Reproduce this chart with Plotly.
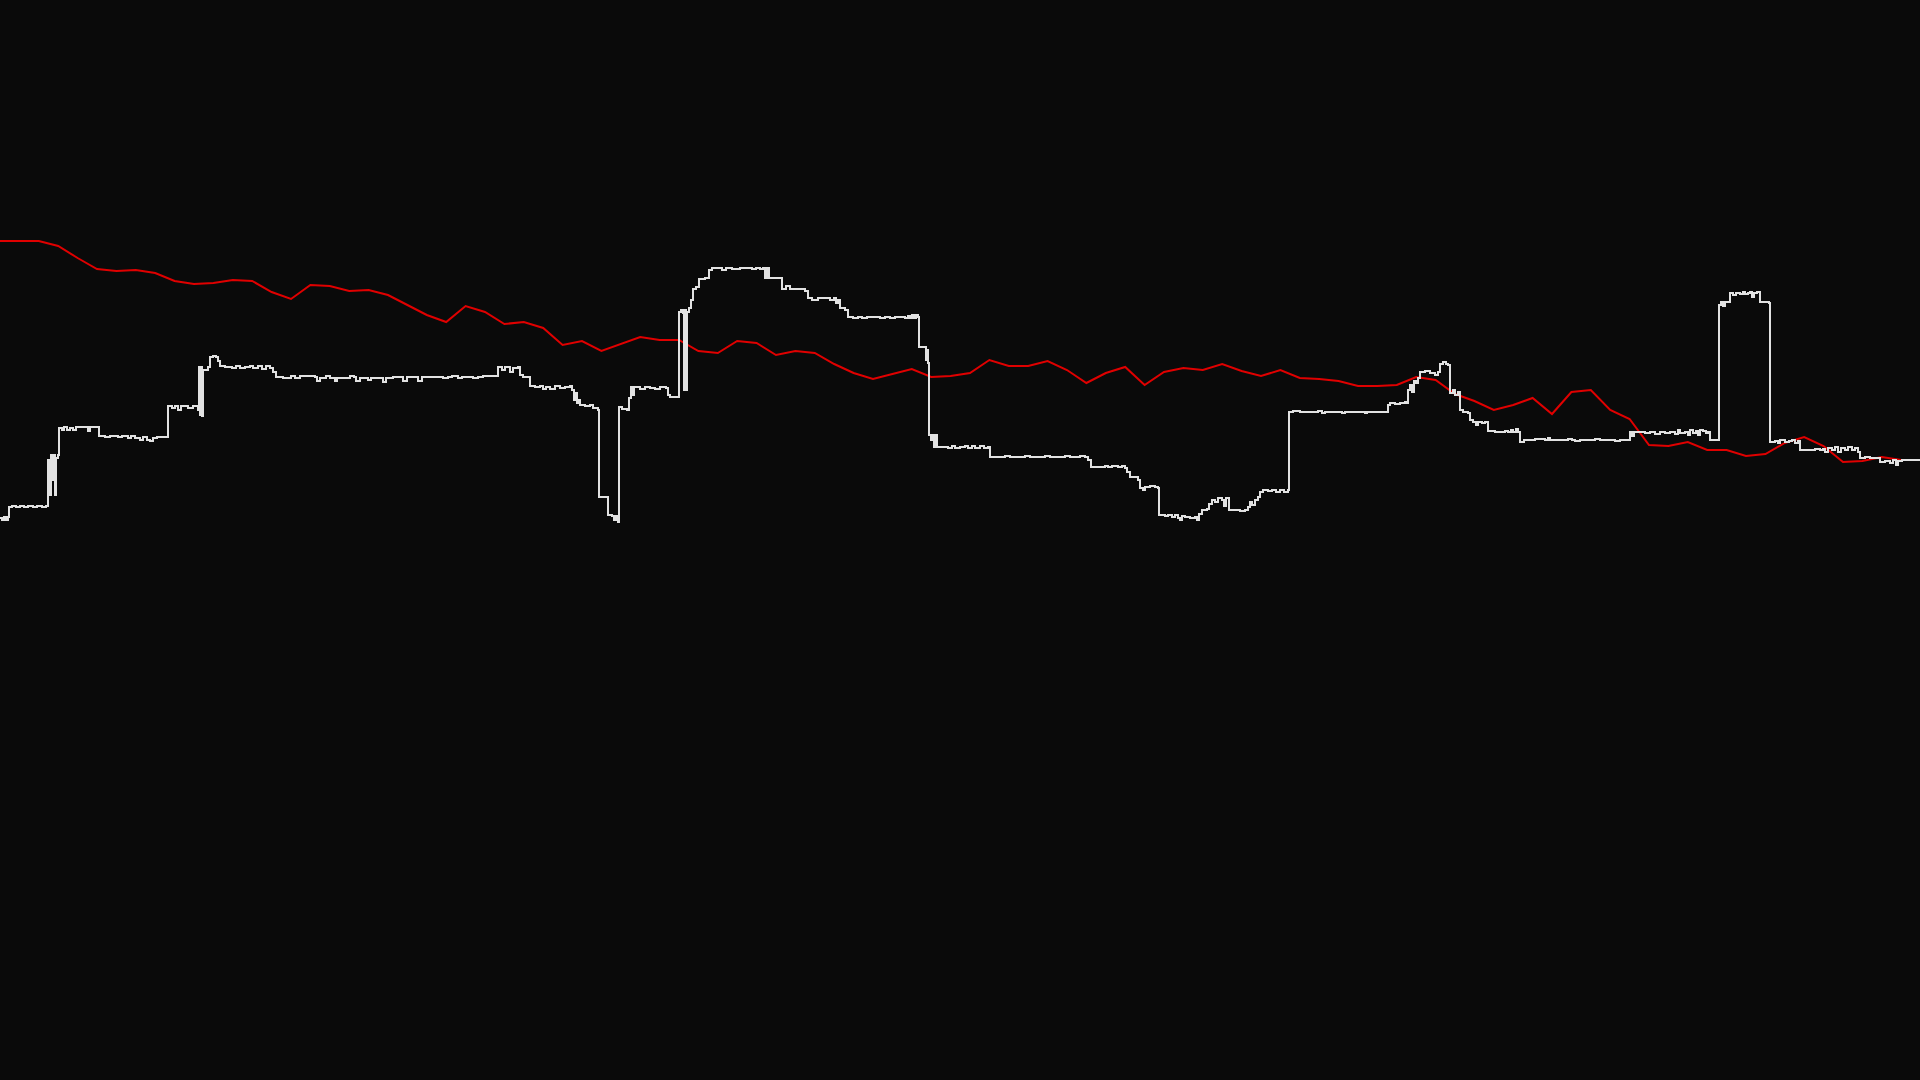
import plotly.graph_objects as go

# Red series: evenly spaced samples (value axis runs top-down, 0 at top)
red_step = 19.4
red_vals = [241, 241, 241, 246, 258, 269, 271, 270, 273, 281,
            284, 283, 280, 281, 292, 299, 285, 286, 291, 290,
            295, 305, 315, 322, 306, 312, 324, 322, 328, 345,
            341, 351, 344, 337, 340, 340, 351, 353, 341, 343,
            355, 351, 353, 364, 373, 379, 374, 369, 377, 376,
            373, 360, 366, 366, 361, 370, 383, 373, 367, 385,
            372, 368, 370, 364, 371, 376, 370, 378, 379, 381,
            386, 386, 385, 377, 380, 394, 401, 410, 405, 398,
            414, 392, 390, 410, 419, 445, 446, 442, 450, 450,
            456, 454, 443, 437, 446, 462, 461, 457, 460]

# White series: change points (time, level), drawn as a step line
white_t_a = [0, 2, 4, 6, 8, 9, 12, 16, 20, 24, 28, 33, 37, 42, 46, 48, 50, 51, 52, 54,
             55, 56, 58, 59, 62, 64, 67, 70, 73, 76, 80, 87, 88, 90, 96, 99, 105, 110, 118, 122,
             128, 131, 135, 140, 143, 147, 150, 153, 157, 168, 172, 175, 178, 181, 188, 193, 198, 199, 200, 201,
             202, 203, 205, 208, 210, 213, 216, 218, 220, 225, 232, 236, 240, 245, 250, 253, 258, 262, 266, 270,
             273, 276]
white_v_a = [518, 520, 517, 520, 517, 507, 506, 507, 506, 507, 506, 507, 506, 507, 506, 460, 495, 455, 480, 455,
             495, 458, 455, 428, 430, 427, 430, 428, 430, 427, 427, 427, 431, 427, 427, 436, 437, 436, 437, 436,
             438, 436, 438, 440, 437, 440, 441, 438, 437, 406, 408, 406, 410, 406, 408, 406, 410, 367, 415, 367,
             416, 370, 370, 367, 357, 356, 357, 361, 366, 367, 368, 366, 368, 367, 366, 368, 366, 369, 366, 368,
             372, 377]

white_t_b = [283, 291, 295, 300, 315, 317, 320, 326, 330, 335, 337, 345, 350, 354, 356, 360, 365, 368, 371, 380,
             383, 386, 393, 400, 403, 407, 415, 418, 422, 430, 438, 443, 448, 452, 458, 462, 468, 473, 478, 483,
             490, 496, 498, 502, 505, 510, 513, 518, 520, 523, 530, 535, 540, 543, 546]
white_v_b = [378, 376, 378, 376, 377, 381, 378, 376, 378, 381, 378, 378, 376, 377, 381, 378, 378, 380, 378, 378,
             382, 378, 377, 377, 381, 377, 377, 381, 377, 377, 377, 378, 377, 376, 378, 377, 377, 378, 377, 376,
             376, 376, 367, 370, 367, 372, 368, 367, 375, 377, 386, 387, 386, 389, 387]

white_t_c = [550, 555, 560, 565, 570, 572, 574, 576, 577, 578, 580, 585, 590, 593, 598, 599, 605, 608, 612, 614,
             616, 618, 619, 622, 627, 629, 631, 633, 634, 640, 645, 650, 655, 660, 666, 668, 670, 678, 679, 681,
             683, 684, 685, 686, 687, 689, 691, 693, 696, 699, 705, 709, 712, 718, 722, 726, 732, 740, 748, 752,
             756, 760, 763, 765, 767, 769, 780, 782, 786, 790, 800, 805, 808, 812, 818]
white_v_c = [389, 386, 388, 387, 386, 390, 400, 393, 403, 400, 405, 406, 405, 408, 410, 497, 497, 515, 516, 520,
             516, 522, 407, 409, 410, 398, 387, 395, 387, 389, 387, 388, 389, 387, 388, 395, 397, 397, 312, 310,
             313, 390, 310, 390, 312, 308, 300, 289, 287, 279, 278, 270, 268, 268, 270, 268, 269, 268, 268, 269,
             268, 269, 268, 278, 268, 278, 278, 289, 286, 289, 289, 291, 298, 300, 298]

white_t_d = [825, 830, 834, 836, 838, 840, 845, 848, 853, 858, 862, 867, 875, 880, 885, 890, 895, 900, 905, 908,
             910, 912, 914, 916, 918, 919, 925, 926, 927, 928, 929, 931, 932, 934, 936, 937, 940, 948, 952, 955,
             960, 965, 968, 972, 975, 980, 984, 988, 990, 1000, 1005, 1010, 1020, 1025, 1030, 1040, 1045, 1050, 1060, 1065,
             1070, 1078, 1080, 1085, 1088, 1091]
white_v_d = [298, 300, 298, 303, 300, 308, 310, 317, 318, 317, 318, 317, 317, 318, 317, 318, 317, 317, 318, 316,
             318, 315, 318, 315, 317, 347, 347, 360, 350, 363, 435, 440, 435, 447, 435, 447, 447, 448, 446, 448,
             447, 446, 448, 446, 448, 446, 448, 447, 457, 457, 456, 457, 457, 456, 457, 457, 456, 457, 457, 456,
             457, 457, 456, 457, 460, 467]

white_t_e = [1100, 1105, 1108, 1112, 1118, 1122, 1125, 1127, 1130, 1135, 1138, 1140, 1143, 1145, 1150, 1155, 1158, 1159, 1165, 1168,
             1172, 1175, 1178, 1180, 1182, 1185, 1190, 1195, 1197, 1199, 1202, 1207, 1209, 1212, 1215, 1218, 1222, 1224, 1226, 1229,
             1235, 1240, 1245, 1248, 1250, 1252, 1255, 1258, 1260, 1263, 1268, 1272, 1276, 1280, 1284, 1288, 1289, 1293, 1300, 1310,
             1318, 1322, 1325, 1340, 1342, 1345, 1362, 1365, 1367]
white_v_e = [467, 466, 467, 466, 467, 466, 468, 472, 477, 477, 480, 488, 490, 487, 486, 487, 488, 515, 516, 515,
             517, 515, 518, 520, 516, 517, 518, 517, 520, 514, 510, 509, 504, 500, 502, 498, 500, 506, 498, 510,
             510, 511, 510, 507, 502, 505, 500, 497, 492, 490, 491, 490, 492, 490, 492, 490, 412, 411, 412, 412,
             411, 413, 412, 412, 413, 412, 412, 413, 412]

white_t_f = [1375, 1385, 1388, 1390, 1395, 1400, 1405, 1407, 1408, 1410, 1412, 1414, 1416, 1418, 1420, 1425, 1430, 1435, 1438, 1440,
             1443, 1446, 1448, 1450, 1453, 1455, 1458, 1460, 1463, 1468, 1470, 1473, 1476, 1478, 1482, 1485, 1488, 1495, 1500, 1505,
             1508, 1511, 1513, 1516, 1518, 1520, 1524, 1528, 1535, 1540, 1545, 1548, 1550, 1553, 1560, 1568, 1572, 1575, 1580, 1590,
             1595, 1600, 1605, 1610, 1615, 1620, 1625, 1628, 1630, 1632, 1634, 1640]
white_v_f = [412, 412, 405, 403, 404, 403, 402, 403, 390, 385, 392, 381, 383, 378, 372, 371, 373, 375, 372, 364,
             362, 364, 365, 393, 390, 395, 392, 410, 412, 413, 420, 422, 425, 422, 423, 422, 431, 432, 432, 431,
             432, 430, 432, 429, 432, 442, 440, 440, 439, 439, 440, 438, 440, 440, 440, 439, 440, 441, 440, 440,
             439, 440, 440, 440, 441, 440, 440, 440, 432, 436, 432, 432]

white_t_g = [1645, 1650, 1655, 1660, 1665, 1670, 1675, 1678, 1680, 1685, 1688, 1690, 1693, 1696, 1698, 1700, 1703, 1706, 1708, 1710,
             1718, 1719, 1721, 1723, 1725, 1730, 1733, 1736, 1740, 1743, 1745, 1748, 1750, 1752, 1754, 1757, 1760, 1765, 1769, 1770,
             1775, 1778, 1780, 1785, 1789, 1792, 1795, 1798, 1800, 1810, 1815, 1820, 1823, 1825, 1828, 1832, 1835, 1838, 1841, 1845,
             1848, 1852, 1855, 1858, 1860, 1865, 1870, 1878, 1880, 1885, 1890, 1893, 1896, 1898, 1902, 1910, 1920]
white_v_g = [433, 432, 434, 432, 433, 432, 434, 430, 433, 432, 435, 430, 433, 431, 435, 430, 431, 433, 432, 440,
             440, 305, 302, 306, 302, 293, 295, 293, 294, 292, 294, 293, 292, 297, 293, 292, 302, 302, 303, 442,
             441, 443, 440, 442, 441, 440, 443, 441, 450, 450, 449, 450, 449, 452, 448, 450, 447, 452, 448, 450,
             447, 450, 448, 452, 458, 457, 458, 458, 462, 461, 463, 460, 465, 461, 460, 460, 460]

white_t = white_t_a + white_t_b + white_t_c + white_t_d + white_t_e + white_t_f + white_t_g
white_v = white_v_a + white_v_b + white_v_c + white_v_d + white_v_e + white_v_f + white_v_g
red_t = [i * red_step for i in range(len(red_vals))]

BG = "#0a0a0a"

fig = go.Figure()
fig.add_trace(go.Scatter(
    x=red_t, y=red_vals, mode="lines",
    line=dict(color="#e00000", width=2),
    hoverinfo="skip", showlegend=False,
))
fig.add_trace(go.Scatter(
    x=white_t, y=white_v, mode="lines",
    line=dict(color="#e2e2e2", width=2, shape="hv"),
    hoverinfo="skip", showlegend=False,
))

fig.update_layout(
    autosize=True,
    margin=dict(l=0, r=0, t=0, b=0, pad=0),
    paper_bgcolor=BG, plot_bgcolor=BG,
    xaxis=dict(visible=False, range=[0, 1920], fixedrange=True),
    yaxis=dict(visible=False, range=[1080, 0], fixedrange=True),
    showlegend=False,
)

page_js = (
    "document.documentElement.style.margin='0';"
    "document.documentElement.style.padding='0';"
    "document.documentElement.style.background='" + BG + "';"
    "document.body.style.margin='0';"
    "document.body.style.padding='0';"
    "document.body.style.overflow='hidden';"
    "document.body.style.background='" + BG + "';"
    "window.dispatchEvent(new Event('resize'));"
)

fig.write_html(
    "out.html",
    config={"displayModeBar": False, "responsive": True},
    default_width="100vw",
    default_height="100vh",
    post_script=page_js,
)
